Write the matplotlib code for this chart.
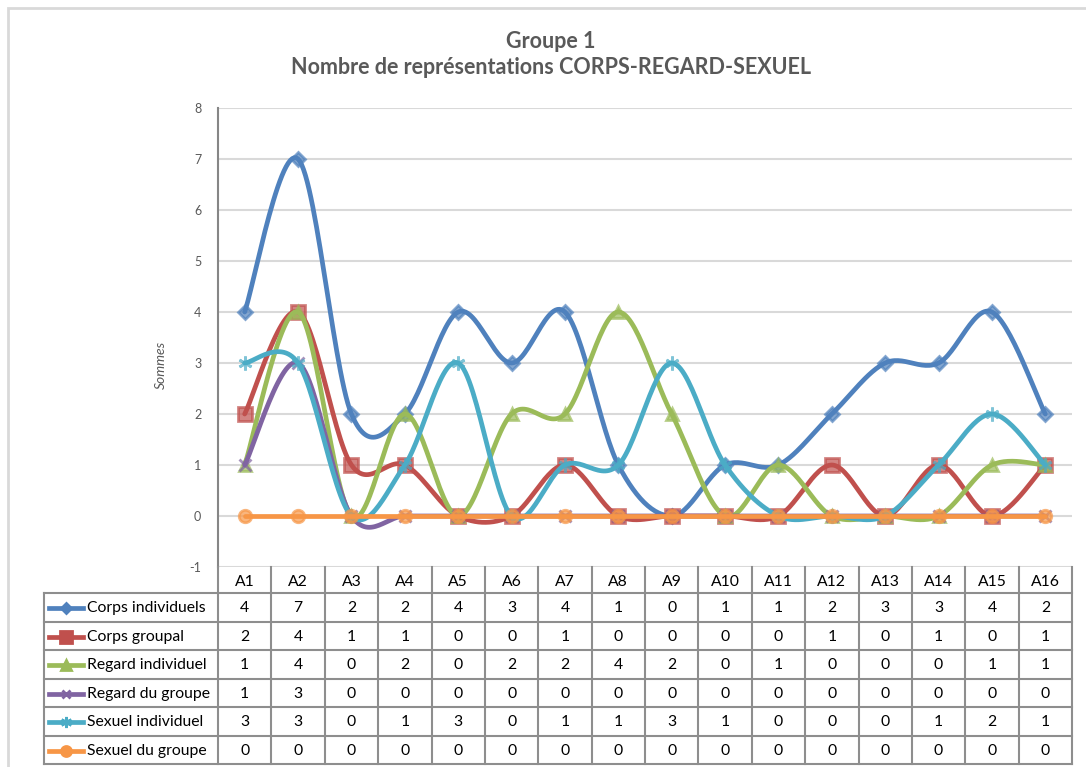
import numpy as np
import matplotlib.pyplot as plt
from matplotlib.transforms import blended_transform_factory
from matplotlib.lines import Line2D
from matplotlib.patches import Rectangle

categories = ["A1", "A2", "A3", "A4", "A5", "A6", "A7", "A8",
              "A9", "A10", "A11", "A12", "A13", "A14", "A15", "A16"]

series_names = ["Corps individuels", "Corps groupal", "Regard individuel",
                "Regard du groupe", "Sexuel individuel", "Sexuel du groupe"]

corps_individuels = [4, 7, 2, 2, 4, 3, 4, 1, 0, 1, 1, 2, 3, 3, 4, 2]
corps_groupal = [2, 4, 1, 1, 0, 0, 1, 0, 0, 0, 0, 1, 0, 1, 0, 1]
regard_individuel = [1, 4, 0, 2, 0, 2, 2, 4, 2, 0, 1, 0, 0, 0, 1, 1]
regard_du_groupe = [1, 3, 0, 0, 0, 0, 0, 0, 0, 0, 0, 0, 0, 0, 0, 0]
sexuel_individuel = [3, 3, 0, 1, 3, 0, 1, 1, 3, 1, 0, 0, 0, 1, 2, 1]
sexuel_du_groupe = [0, 0, 0, 0, 0, 0, 0, 0, 0, 0, 0, 0, 0, 0, 0, 0]

values = [corps_individuels, corps_groupal, regard_individuel,
          regard_du_groupe, sexuel_individuel, sexuel_du_groupe]
colors = ["#4F81BD", "#C0504D", "#9BBB59", "#8064A2", "#4BACC6", "#F79646"]
markers = ["D", "s", "^", "x", (6, 2, 0), "o"]
marker_sizes = [7, 10, 9, 8, 10, 9]

plt.rcParams["font.family"] = ["Lato", "DejaVu Sans"]
plt.rcParams["axes.unicode_minus"] = False

W, H = 1086, 767


def fy(py):
    return 1 - py / H


def smooth(y, n=30):
    # Excel-like smoothed line: Catmull-Rom curve through the points
    y = np.asarray(y, dtype=float)
    x = np.arange(len(y), dtype=float)
    xs, ys = [], []
    for i in range(len(y) - 1):
        i0 = max(i - 1, 0)
        i3 = min(i + 2, len(y) - 1)
        p0 = np.array([x[i], y[i]])
        p3 = np.array([x[i + 1], y[i + 1]])
        c1 = p0 + (p3 - np.array([x[i0], y[i0]])) / 6
        c2 = p3 - (np.array([x[i3], y[i3]]) - p0) / 6
        t = np.linspace(0, 1, n)[:, None]
        b = ((1 - t) ** 3) * p0 + 3 * ((1 - t) ** 2) * t * c1 \
            + 3 * (1 - t) * t ** 2 * c2 + t ** 3 * p3
        xs.extend(b[:, 0])
        ys.extend(b[:, 1])
    return np.array(xs), np.array(ys)


fig = plt.figure(figsize=(W / 100, H / 100), dpi=100)
fig.patches.append(Rectangle((8 / W, fy(H + 5)), (W + 10) / W, (H - 3) / H,
                             transform=fig.transFigure, fill=False,
                             edgecolor="#d9d9d9", linewidth=2))

ax_left, ax_right, ax_top, ax_bottom = 218, 1072, 108, 567
ax = fig.add_axes([ax_left / W, fy(ax_bottom), (ax_right - ax_left) / W,
                   (ax_bottom - ax_top) / H])

x = np.arange(len(categories))
for vals, col, mk, ms in zip(values, colors, markers, marker_sizes):
    ax.plot(x, vals, linestyle="none", marker=mk, markersize=ms, color=col,
            markeredgecolor=col, markeredgewidth=2, alpha=0.7, zorder=3,
            clip_on=False)
    sx, sy = smooth(vals)
    ax.plot(sx, sy, color=col, linewidth=3.4, solid_capstyle="round",
            zorder=3, clip_on=False)

ax.set_xlim(-0.5, len(categories) - 0.5)
ax.set_ylim(-1, 8)
ax.set_yticks(range(-1, 9))
ax.set_xticks([])
ax.grid(axis="y", color="#d9d9d9", linewidth=1.5)
ax.set_axisbelow(True)
ax.tick_params(axis="y", length=0, pad=12, labelsize=9, labelcolor="#595959")
for s in ["top", "right", "bottom"]:
    ax.spines[s].set_visible(False)
ax.spines["left"].set_color("#868686")
ax.spines["left"].set_linewidth(1.5)

ax.set_ylabel("Sommes", fontsize=10, style="italic", color="#595959")
ax.yaxis.set_label_coords((167 - ax_left) / (ax_right - ax_left),
                          (ax_bottom - 365) / (ax_bottom - ax_top))

fig.text(551 / W, fy(42), "Groupe 1", ha="center", va="center",
         fontsize=15.5, fontweight="bold", color="#595959")
fig.text(551 / W, fy(68), "Nombre de représentations CORPS-REGARD-SEXUEL",
         ha="center", va="center", fontsize=15.5, fontweight="bold",
         color="#595959")

# data table under the plot
tr = blended_transform_factory(ax.transData, fig.transFigure)
line_col = "#8e8e8e"
header_top, header_bot = 567, 593
row_h = 28.5
rows_bot = header_bot + row_h * len(series_names)
legend_left = 44
fs = 11.3

for k in range(len(categories) + 1):
    fig.add_artist(Line2D([k - 0.5, k - 0.5], [fy(header_top), fy(rows_bot)],
                          transform=tr, color=line_col, linewidth=1.5))
for i, lab in enumerate(categories):
    fig.text(i, fy((header_top + header_bot) / 2 + 2), lab, transform=tr,
             ha="center", va="center", fontsize=fs, color="#000000")

for r in range(len(series_names) + 1):
    yy = fy(header_bot + r * row_h)
    fig.add_artist(Line2D([legend_left / W, 1072 / W], [yy, yy],
                          transform=fig.transFigure, color=line_col,
                          linewidth=1.5))
fig.add_artist(Line2D([legend_left / W, legend_left / W],
                      [fy(header_bot), fy(rows_bot)],
                      transform=fig.transFigure, color=line_col, linewidth=1.5))

for r, (name, vals, col, mk, ms) in enumerate(zip(series_names, values, colors,
                                                  markers, marker_sizes)):
    yc = fy(header_bot + (r + 0.5) * row_h + 1)
    fig.add_artist(Line2D([49 / W, 83 / W], [yc, yc], transform=fig.transFigure,
                          color=col, linewidth=3.4))
    fig.add_artist(Line2D([66 / W], [yc], transform=fig.transFigure,
                          linestyle="none", marker=mk, markersize=ms * 0.8,
                          color=col, markeredgecolor=col, markeredgewidth=2))
    fig.text(87 / W, yc, name, ha="left", va="center", fontsize=fs,
             color="#000000")
    for i, v in enumerate(vals):
        fig.text(i, yc, str(v), transform=tr, ha="center", va="center",
                 fontsize=fs, color="#000000")

fig.savefig("out.png", dpi=100)
